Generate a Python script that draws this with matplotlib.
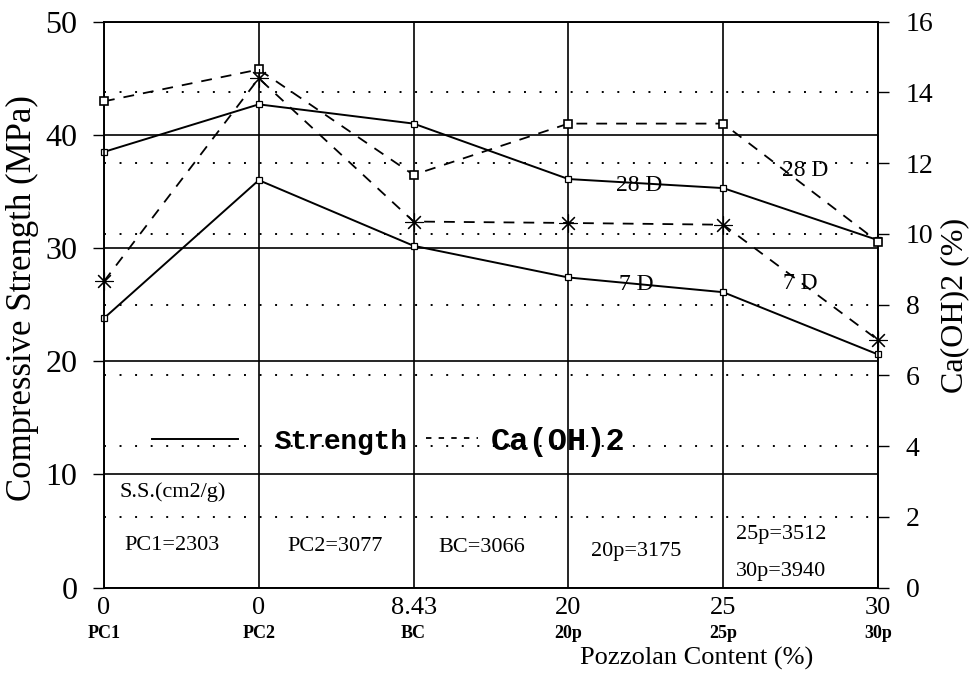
import matplotlib
matplotlib.use("Agg")
import matplotlib.pyplot as plt
from matplotlib.lines import Line2D

# mix designs along the x axis
pozzolan = ["0", "0", "8.43", "20", "25", "30"]
mixes = ["PC1", "PC2", "BC", "20p", "25p", "30p"]
surface = ["PC1=2303", "PC2=3077", "BC=3066", "20p=3175", "25p=3512", "30p=3940"]

# compressive strength (MPa)
strength_28d = [38.5, 42.7, 41.0, 36.1, 35.3, 30.7]
strength_7d = [23.8, 36.0, 30.2, 27.4, 26.1, 20.6]

# Ca(OH)2 content (%)
caoh_28d = [13.75, 14.65, 11.67, 13.12, 13.12, 9.78]
caoh_7d = [8.66, 14.4, 10.35, 10.31, 10.26, 7.0]

serif = "Liberation Serif"
mono = "Liberation Mono"

fig = plt.figure(figsize=(9.71, 6.8), dpi=100)
ax = fig.add_axes([0.1071, 0.136, 0.7971, 0.832])
ax2 = ax.twinx()

x = list(range(len(mixes)))

# strength lines (solid) on the left axis
for vals in (strength_28d, strength_7d):
    ax.plot(x, vals, color="black", lw=1.4, marker="s", ms=4.5, mfc="white",
            mec="black", mew=0.9, zorder=5, clip_on=False)

# Ca(OH)2 lines (dashed) on the right axis
ax2.plot(x, caoh_28d, color="black", lw=1.3, ls=(0, (6, 5)), marker="s", ms=5.5,
         mfc="white", mec="black", mew=1.2, zorder=5, clip_on=False)
ax2.plot(x, caoh_7d, color="black", lw=1.3, ls=(0, (6, 5)), marker=(8, 2, 0), ms=13,
         mec="black", mew=0.8, zorder=5, clip_on=False)

ax.set_xlim(0, 5)
ax.set_ylim(0, 50)
ax2.set_ylim(0, 16)

ax.set_yticks(range(0, 51, 10))
ax2.set_yticks(range(0, 17, 2))
ax.set_xticks(x)
ax.set_xticklabels(pozzolan, family=serif, fontsize=19)

# solid grid from the strength axis, dotted grid from the Ca(OH)2 axis
ax.grid(True, color="black", lw=1.2, ls="-")
ax2.grid(True, axis="y", color="black", lw=1.4, ls=(0, (1, 7)))
ax.set_axisbelow(True)

for a in (ax, ax2):
    for s in a.spines.values():
        s.set_linewidth(1.2)

ax.tick_params(axis="y", direction="out", length=8, width=1, labelsize=23, pad=11)
ax.tick_params(axis="x", length=0, pad=7)
ax2.tick_params(axis="y", direction="out", length=8, width=1, labelsize=20, pad=12)
for lbl in ax.get_yticklabels() + ax2.get_yticklabels():
    lbl.set_family(serif)

# mix names under the pozzolan percentages
for xi, name in zip(x, mixes):
    ax.text(xi, -0.082, name, transform=ax.get_xaxis_transform(), ha="center",
            va="center", family=serif, fontsize=13, fontweight="bold")

ax.text(0.766, -0.125, "Pozzolan Content (%)", transform=ax.transAxes, ha="center",
        va="center", family=serif, fontsize=19)
fig.text(22 / 971, 1 - 298 / 680, "Compressive Strength (MPa)", rotation=90,
         ha="center", va="center", family=serif, fontsize=25)
fig.text(955 / 971, 1 - 305 / 680, "Ca(OH)2 (%)", rotation=90,
         ha="center", va="center", family=serif, fontsize=23)

# age labels next to the curves
ax.text(3.46, 35.5, "28 D", family=serif, fontsize=17, ha="center", va="center")
ax.text(3.44, 26.8, "7 D", family=serif, fontsize=17, ha="center", va="center")
ax2.text(4.53, 11.8, "28 D", family=serif, fontsize=17, ha="center", va="center")
ax2.text(4.5, 8.6, "7 D", family=serif, fontsize=17, ha="center", va="center")

# specific surface of each mix
ax.text(0.1, 8.4, "S.S.(cm2/g)", family=serif, fontsize=16, ha="left", va="center")
surf_pos = [(0.44, 3.7), (1.49, 3.6), (2.44, 3.5), (3.44, 3.2)]
for (xs, ys), txt in zip(surf_pos, surface[:4]):
    ax.text(xs, ys, txt, family=serif, fontsize=16, ha="center", va="center")
ax.text(4.08, 4.7, surface[4], family=serif, fontsize=16, ha="left", va="center")
ax.text(4.08, 1.4, surface[5], family=serif, fontsize=16, ha="left", va="center")

# key: solid = strength, dashed = Ca(OH)2
key_font = {"family": mono, "weight": "bold", "size": 20}
leg1 = ax.legend([Line2D([], [], color="black", lw=1.4)], ["Strength"],
                 frameon=False, loc="center", bbox_to_anchor=(0.227, 0.258),
                 handlelength=3.1, handletextpad=1.3, prop=key_font)
ax.add_artist(leg1)
ax.legend([Line2D([], [], color="black", lw=1.3, ls=(0, (3, 4)))], ["Ca(OH)2"],
          frameon=False, loc="center", bbox_to_anchor=(0.545, 0.258),
          handlelength=1.6, handletextpad=0.4, prop={**key_font, "size": 23})

fig.savefig("out.png", dpi=100)
